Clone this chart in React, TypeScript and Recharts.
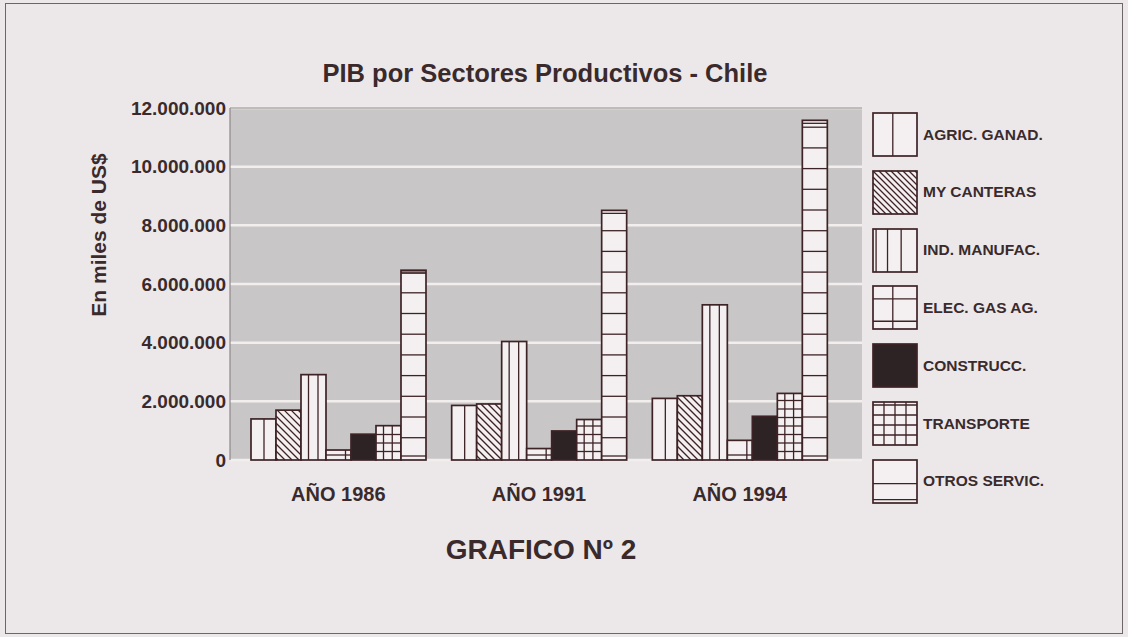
import React from 'react';
import { BarChart, Bar, XAxis, YAxis, CartesianGrid, Legend, ReferenceLine, Label } from 'recharts';

// values in miles de US$
const years = ['AÑO 1986', 'AÑO 1991', 'AÑO 1994'];
const agric = [1400000, 1860000, 2100000];
const mineria = [1700000, 1910000, 2190000];
const industria = [2910000, 4040000, 5290000];
const electricidad = [340000, 390000, 670000];
const construccion = [880000, 990000, 1490000];
const transporte = [1170000, 1380000, 2270000];
const otros = [6470000, 8510000, 11580000];
const yTicks = [0, 2000000, 4000000, 6000000, 8000000, 10000000, 12000000];

type Kind = 'agric' | 'diag' | 'ind' | 'elec' | 'solid' | 'grid' | 'hlines';

const series: { key: string; name: string; kind: Kind }[] = [
  { key: 'agric', name: 'AGRIC. GANAD.', kind: 'agric' },
  { key: 'mineria', name: 'MY CANTERAS', kind: 'diag' },
  { key: 'industria', name: 'IND. MANUFAC.', kind: 'ind' },
  { key: 'electricidad', name: 'ELEC. GAS AG.', kind: 'elec' },
  { key: 'construccion', name: 'CONSTRUCC.', kind: 'solid' },
  { key: 'transporte', name: 'TRANSPORTE', kind: 'grid' },
  { key: 'otros', name: 'OTROS SERVIC.', kind: 'hlines' },
];

const data = years.map((year, i) => ({
  year,
  agric: agric[i],
  mineria: mineria[i],
  industria: industria[i],
  electricidad: electricidad[i],
  construccion: construccion[i],
  transporte: transporte[i],
  otros: otros[i],
}));

const FONT = '"Liberation Sans", Arial, Helvetica, sans-serif';
const INK = '#3a2a2c';
const EDGE = '#3d2326';
const PAPER = '#f4f0f1';
const BG = '#ece8e9';

const fmt = (v: number) => String(v).replace(/\B(?=(\d{3})+(?!\d))/g, '.');

// hatch lines drawn inside a box; horizontal ones are anchored on the baseline
function hatch(kind: Kind, x: number, y: number, w: number, h: number, legend: boolean) {
  const out: React.ReactNode[] = [];
  const base = y + h;
  const vl = (f: number, k: string) => (
    <line key={k} x1={x + w * f} x2={x + w * f} y1={y} y2={base} stroke={EDGE} strokeWidth={1.3} />
  );
  const hl = (yy: number, k: string) =>
    yy > y + 1.5 && yy < base - 1 ? (
      <line key={k} x1={x} x2={x + w} y1={yy} y2={yy} stroke={EDGE} strokeWidth={1.3} />
    ) : null;

  if (kind === 'agric') out.push(vl(legend ? 0.45 : 0.52, 'v'));
  if (kind === 'ind') {
    (legend ? [0.07, 0.33, 0.64] : [0.3, 0.68]).forEach((f, i) => out.push(vl(f, 'v' + i)));
  }
  if (kind === 'elec') {
    out.push(vl(legend ? 0.45 : 0.78, 'v'));
    if (legend) {
      out.push(hl(y + h * 0.3, 'h1'), hl(y + h * 0.82, 'h2'));
    } else {
      for (let k = 0; k < 30; k++) out.push(hl(base - 5 - k * 22, 'h' + k));
    }
  }
  if (kind === 'grid') {
    (legend ? [0.25, 0.5, 0.75] : [0.3, 0.65]).forEach((f, i) => out.push(vl(f, 'v' + i)));
    const step = legend ? h / 4.3 : 8.5;
    for (let k = 1; k < 60; k++) out.push(hl(base - k * step, 'h' + k));
  }
  if (kind === 'hlines') {
    if (legend) {
      out.push(hl(y + h * 0.55, 'h1'), hl(y + h * 0.92, 'h2'));
    } else {
      out.push(hl(base - 4, 'b'), hl(y + 3, 't'));
      for (let k = 0; k < 40; k++) out.push(hl(base - 22.3 - k * 20.7, 'h' + k));
    }
  }
  if (kind === 'diag') {
    const s = legend ? 6 : 7;
    const x1 = x + w;
    for (let c = Math.floor((x - base) / s) * s; c <= x1 - y; c += s) {
      const xa = Math.max(x, y + c);
      const xb = Math.min(x1, base + c);
      if (xb - xa > 0.5) {
        out.push(
          <line key={'d' + c} x1={xa} y1={xa - c} x2={xb} y2={xb - c} stroke={EDGE} strokeWidth={1.3} />
        );
      }
    }
  }
  return out;
}

const makeShape = (kind: Kind) => (props: any) => {
  const { x, y, width, height } = props;
  if (!height || height <= 0) return <g />;
  return (
    <g>
      <rect x={x} y={y} width={width} height={height} fill={kind === 'solid' ? '#2e2324' : PAPER} />
      {kind !== 'solid' && hatch(kind, x, y, width, height, false)}
      <rect x={x} y={y} width={width} height={height} fill="none" stroke={EDGE} strokeWidth={1.7} />
    </g>
  );
};

const LegendBox = () => (
  <div style={{ position: 'relative', width: 250, height: 410 }}>
    {series.map((s, i) => (
      <div
        key={s.key}
        style={{ position: 'absolute', left: 0, top: i * 57.8, display: 'flex', alignItems: 'center' }}
      >
        <svg width={46} height={45}>
          <rect x={1} y={1} width={44} height={43} fill={s.kind === 'solid' ? '#2e2324' : PAPER} />
          {s.kind !== 'solid' && hatch(s.kind, 1, 1, 44, 43, true)}
          <rect x={1} y={1} width={44} height={43} fill="none" stroke={EDGE} strokeWidth={1.7} />
        </svg>
        <span style={{ marginLeft: 5, fontFamily: FONT, fontWeight: 'bold', fontSize: 15.5, color: INK }}>
          {s.name}
        </span>
      </div>
    ))}
  </div>
);

export default function App() {
  return (
    <div style={{ position: 'fixed', left: 0, top: 0, width: 1128, height: 637, background: BG, overflow: 'hidden' }}>
      <div
        style={{
          position: 'absolute', left: 5, top: 3, width: 1118, height: 631,
          border: '1.5px solid #6d6668', boxSizing: 'border-box',
        }}
      />
      <div
        style={{
          position: 'absolute', left: 245, top: 58, width: 600, textAlign: 'center', lineHeight: '30px',
          fontFamily: FONT, fontWeight: 'bold', fontSize: 25.5, color: INK,
        }}
      >
        PIB por Sectores Productivos - Chile
      </div>
      <div
        style={{
          position: 'absolute', left: 341, top: 535, width: 400, textAlign: 'center', lineHeight: '30px',
          fontFamily: FONT, fontWeight: 'bold', fontSize: 28, color: INK,
        }}
      >
        GRAFICO Nº 2
      </div>
      <div style={{ position: 'absolute', left: 0, top: 0 }}>
        <BarChart
          width={1128}
          height={637}
          data={data}
          margin={{ top: 108, right: 266, bottom: 147, left: 80 }}
          barGap={0}
          barCategoryGap={13}
        >
          <CartesianGrid vertical={false} fill="#c9c6c7" stroke="#f2eeee" strokeWidth={2.5} />
          <XAxis
            dataKey="year"
            height={30}
            padding={{ left: 8, right: 22 }}
            axisLine={false}
            tickLine={false}
            tickMargin={21}
            tick={{ fill: INK, fontSize: 20, fontWeight: 'bold', fontFamily: FONT }}
          />
          <YAxis
            width={150}
            domain={[0, 12000000]}
            ticks={yTicks}
            tickFormatter={fmt}
            tickLine={false}
            tickSize={0}
            tickMargin={4}
            axisLine={{ stroke: '#8d8788', strokeWidth: 1.2 }}
            tick={{ fill: INK, fontSize: 19, fontWeight: 'bold', fontFamily: FONT }}
          >
            <Label
              content={() => (
                <text
                  x={98}
                  y={235}
                  transform="rotate(-90 98 235)"
                  textAnchor="middle"
                  dominantBaseline="central"
                  fill={INK}
                  fontSize={21}
                  fontWeight="bold"
                  fontFamily={FONT}
                >
                  En miles de US$
                </text>
              )}
            />
          </YAxis>
          <ReferenceLine y={12000000} stroke="#8d8788" strokeWidth={1.2} />
          {series.map((s) => (
            <Bar
              key={s.key}
              dataKey={s.key}
              name={s.name}
              fill={s.kind === 'solid' ? '#2e2324' : PAPER}
              shape={makeShape(s.kind)}
              isAnimationActive={false}
            />
          ))}
          <Legend
            layout="vertical"
            align="center"
            verticalAlign="middle"
            wrapperStyle={{ left: 872, top: 112, width: 250 }}
            content={() => <LegendBox />}
          />
        </BarChart>
      </div>
    </div>
  );
}
